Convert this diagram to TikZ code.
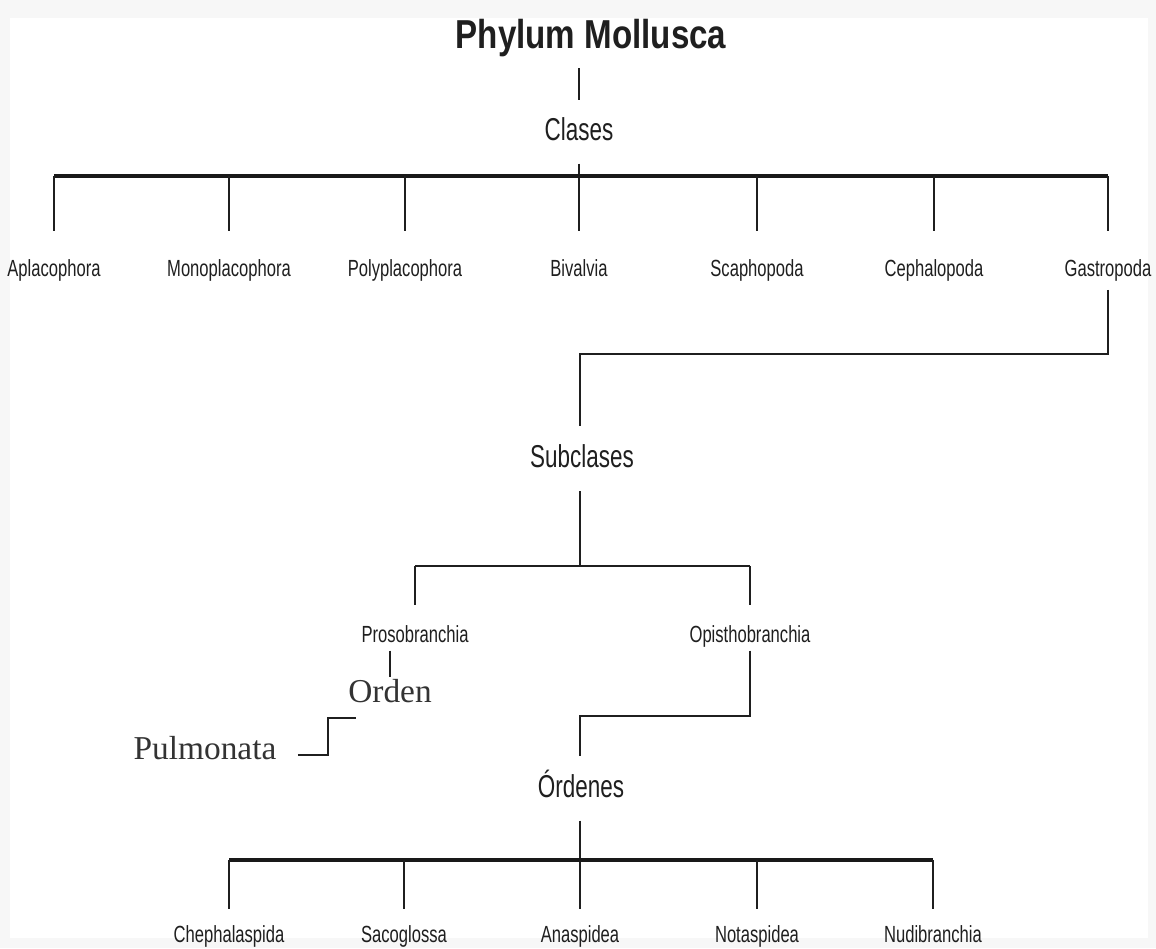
\documentclass[tikz,border=0pt]{standalone}
\usepackage{fontspec}
\setmainfont{Liberation Sans}[FakeStretch=0.71]
\newfontfamily\headfont{Liberation Sans}[FakeStretch=0.82]
\newfontfamily\serifname{Liberation Serif}
\begin{document}
\begin{tikzpicture}[x=0.02cm,y=-0.02cm,
  every node/.style={inner sep=0pt,anchor=base,text=black!88},
  head/.style={font=\headfont\bfseries\fontsize{23}{26}\selectfont},
  rank/.style={font=\fontsize{18}{21}\selectfont},
  leaf/.style={font=\fontsize{13.3}{15}\selectfont},
  note/.style={font=\serifname\fontsize{19}{22}\selectfont,text=black!80},
  line/.style={line width=1.1pt,black!88},
  bar/.style={line width=2.2pt,black!90}]
\fill[black!3] (0,0) rectangle (1156,948);
\fill[white] (10,18) rectangle (1148,938);
\useasboundingbox (0,0) rectangle (1156,948);

\node[head] (phylum) at (591,48) {Phylum Mollusca};
\node[rank] (clases) at (579,140) {Clases};
\node[rank] (subclases) at (582,467) {Subclases};
\node[rank] (ordenes) at (581,797) {Órdenes};

\foreach \x/\n/\t in {54/apla/Aplacophora,229/mono/Monoplacophora,
  405/poly/Polyplacophora,579/biva/Bivalvia,757/scap/Scaphopoda,
  934/ceph/Cephalopoda,1108/gast/Gastropoda}
  \node[leaf] (\n) at (\x,276) {\t};

\node[leaf] (proso) at (415,642) {Prosobranchia};
\node[leaf] (opis) at (750,642) {Opisthobranchia};
\node[note] (orden) at (390,702) {Orden};
\node[note] (pulmo) at (205,759) {Pulmonata};

\foreach \x/\n/\t in {229/chep/Chephalaspida,404/saco/Sacoglossa,
  580/anas/Anaspidea,757/nota/Notaspidea,933/nudi/Nudibranchia}
  \node[leaf] (\n) at (\x,942) {\t};

\coordinate (cbar) at (580,176);
\coordinate (gjoin) at (580,354);
\coordinate (sbar) at (580,566);
\coordinate (ojoin) at (580,716);
\coordinate (obar) at (580,860);
\coordinate (bend) at (328,718);
\coordinate (bend2) at (356,718);

\draw[line,shorten <=6.5pt,shorten >=9.5pt] (clases.north |- phylum.south) -- (clases.north);
\draw[line,shorten <=13pt,shorten >=15.5pt] (clases.south) -- (clases.south |- biva.north);
\draw[bar] (apla |- cbar) -- (gast |- cbar);
\foreach \n in {apla,mono,poly,scap,ceph,gast}
  \draw[line,shorten >=15.5pt] (\n |- cbar) -- (\n.north);

\draw[line,line width=1.4pt,shorten <=5pt,shorten >=10pt] (gast.south) |- (gjoin) -- (gjoin |- subclases.north);
\draw[line,shorten <=13.5pt] (gjoin |- subclases.south) -- (sbar);
\draw[line,line width=1.4pt] (proso |- sbar) -- (opis |- sbar);
\foreach \n in {proso,opis}
  \draw[line,shorten >=11pt] (\n |- sbar) -- (\n.north);

\draw[line,shorten <=4.5pt,shorten >=1pt] (orden.north |- proso.south) -- (orden.north);
\draw[line,shorten <=12pt] ([yshift=2.2pt]pulmo.base east) -| (bend) -- (bend2);

\draw[line,line width=1.4pt,shorten <=2pt,shorten >=7.5pt] (opis.south) |- (ojoin) -- (ojoin |- ordenes.north);
\draw[line,shorten <=13pt,shorten >=9pt] (ojoin |- ordenes.south) -- (ojoin |- anas.north);
\draw[bar] (chep |- obar) -- (nudi |- obar);
\foreach \n in {chep,saco,nota,nudi}
  \draw[line,shorten >=9pt] (\n |- obar) -- (\n.north);
\end{tikzpicture}
\end{document}
